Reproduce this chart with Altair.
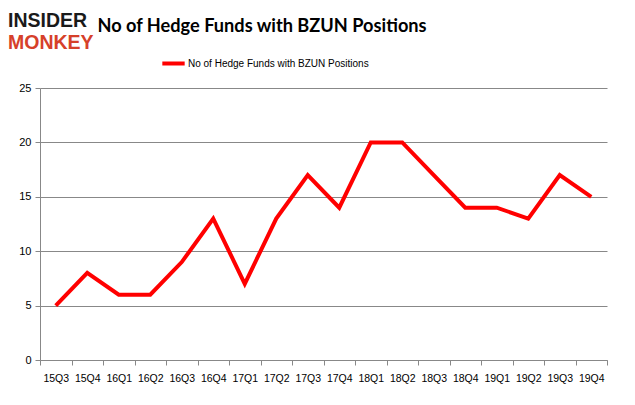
import altair as alt
import pandas as pd

quarters = ["15Q3", "15Q4", "16Q1", "16Q2", "16Q3", "16Q4", "17Q1", "17Q2", "17Q3",
            "17Q4", "18Q1", "18Q2", "18Q3", "18Q4", "19Q1", "19Q2", "19Q3", "19Q4"]
funds = [5, 8, 6, 6, 9, 13, 7, 13, 17, 14, 20, 20, 17, 14, 14, 13, 17, 15]
series_name = "No of Hedge Funds with BZUN Positions"
title_text = "No of Hedge Funds with BZUN Positions"
logo_top = "INSIDER"
logo_bottom = "MONKEY"
y_ticks = [0, 5, 10, 15, 20, 25]

df = pd.DataFrame({"quarter": quarters, "funds": funds, "series": series_name})

line = alt.Chart(df).mark_line(strokeWidth=4, color="#ff0000").encode(
    x=alt.X("quarter:O", sort=None, title=None,
            scale=alt.Scale(type="band", paddingInner=0, paddingOuter=0),
            axis=alt.Axis(tickBand="extent", labelAngle=0, labelPadding=8,
                          labelFont="Liberation Sans", labelFontSize=10.5,
                          labelColor="#000000", tickColor="#888888", domainColor="#888888",
                          tickSize=5, grid=False)),
    y=alt.Y("funds:Q", title=None, scale=alt.Scale(domain=[0, 25], nice=False),
            axis=alt.Axis(values=y_ticks, labelFont="Liberation Sans", labelFontSize=11,
                          labelColor="#000000", tickColor="#888888", domainColor="#888888",
                          gridColor="#888888", tickSize=5, labelPadding=4)),
    color=alt.Color("series:N", scale=alt.Scale(range=["#ff0000"]),
                    legend=alt.Legend(title=None, orient="none", legendX=120, legendY=-38,
                                      symbolType="stroke", symbolStrokeWidth=4,
                                      symbolSize=500, labelFont="Liberation Sans",
                                      labelFontSize=10, labelColor="#000000",
                                      labelLimit=0, labelOffset=1)),
)

title = alt.Chart(pd.DataFrame({"t": [title_text]})).mark_text(
    font="Lato", fontSize=18.2, fontWeight="bold", color="#000000",
    align="center", baseline="middle"
).encode(text="t:N", x=alt.value(222), y=alt.value(-61))

logo1 = alt.Chart(pd.DataFrame({"t": [logo_top]})).mark_text(
    font="Liberation Sans", fontSize=19.5,
    fontWeight="bold", color="#1a1a1a", align="left", baseline="alphabetic"
).encode(text="t:N", x=alt.value(-32), y=alt.value(-61))

logo2 = alt.Chart(pd.DataFrame({"t": [logo_bottom]})).mark_text(
    font="Liberation Sans", fontSize=19.5,
    fontWeight="bold", color="#d6402a", align="left", baseline="alphabetic"
).encode(text="t:N", x=alt.value(-32), y=alt.value(-39))

chart = alt.layer(line, title, logo1, logo2).properties(
    width=567, height=272,
    autosize=alt.AutoSizeParams(type="none"),
    padding={"left": 32, "top": 80, "right": 20, "bottom": 37},
    background="#ffffff",
).configure_view(stroke=None)

chart.save("out.html", embed_options={"renderer": "svg", "actions": False})
